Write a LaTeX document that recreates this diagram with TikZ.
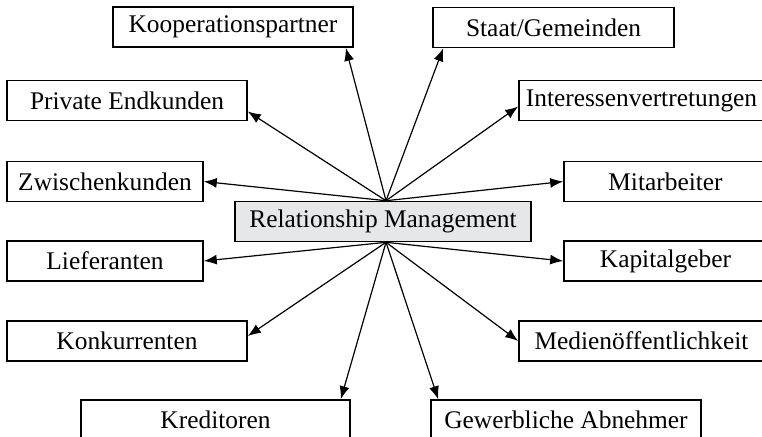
\documentclass[tikz,border=0pt]{standalone}
\usepackage{fontspec}
\setmainfont{Liberation Serif}
\usepackage{tikz}
\usetikzlibrary{arrows.meta}
\definecolor{rmgray}{HTML}{E6E7E8}

\begin{document}
\begin{tikzpicture}[x=0.5pt, y=-0.5pt, font=\fontsize{12.7}{14}\selectfont, >={Latex[length=6.5pt,width=5pt]},
  party/.style={draw, line width=0.8pt, inner sep=0pt, minimum height=20pt, fill=white},
  hub/.style={party, fill=rmgray},
  link/.style={->, line width=0.6pt}]
\useasboundingbox (0,0) rectangle (762,436);
% centre
\node[hub, minimum width=148pt] (rm) at (383,221.5) {Relationship Management};
\coordinate (top) at ([xshift=1.5pt]rm.north);
\coordinate (bot) at ([xshift=1.5pt]rm.south);
% upper half
\node[party, minimum width=120pt] (koop)  at (233,27)     {Kooperationspartner};
\node[party, minimum width=120.5pt] (staat) at (553.5,27.5) {Staat/Gemeinden};
\node[party, minimum width=120pt] (priv)  at (127,100.5)  {Private Endkunden};
\node[party, minimum width=122.5pt] (inter) at (641.5,100.5) {Interessenvertretungen};
\node[party, minimum width=98pt]  (zwis)  at (105,181.5)  {Zwischenkunden};
\node[party, minimum width=101.5pt] (mitar) at (665.5,181.5) {Mitarbeiter};
% lower half
\node[party, minimum width=98pt]  (lief)  at (105,261)    {Lieferanten};
\node[party, minimum width=101.5pt] (kapi)  at (665.5,261)  {Kapitalgeber};
\node[party, minimum width=120pt] (konk)  at (127,341)    {Konkurrenten};
\node[party, minimum width=122.5pt] (medi)  at (641.5,341)  {Medienöffentlichkeit};
\node[party, minimum width=134.5pt] (kred)  at (215.5,420)  {Kreditoren};
\node[party, minimum width=135pt] (gewe)  at (566,420)    {Gewerbliche Abnehmer};
% arrows
\draw[link] (top) -- ([xshift=-4pt]koop.south east);
\draw[link] (top) -- ([xshift=5.5pt]staat.south west);
\draw[link] (top) -- ([yshift=-5.5pt]priv.east);
\draw[link] (top) -- ([yshift=-3pt]inter.west);
\draw[link] (top) -- (zwis.east);
\draw[link] (top) -- (mitar.west);
\draw[link] (bot) -- (lief.east);
\draw[link] (bot) -- (kapi.west);
\draw[link] (bot) -- ([yshift=2.5pt]konk.east);
\draw[link] (bot) -- (medi.west);
\draw[link] (bot) -- ([xshift=-5pt]kred.north east);
\draw[link] (bot) -- ([xshift=4pt]gewe.north west);
\end{tikzpicture}
\end{document}
